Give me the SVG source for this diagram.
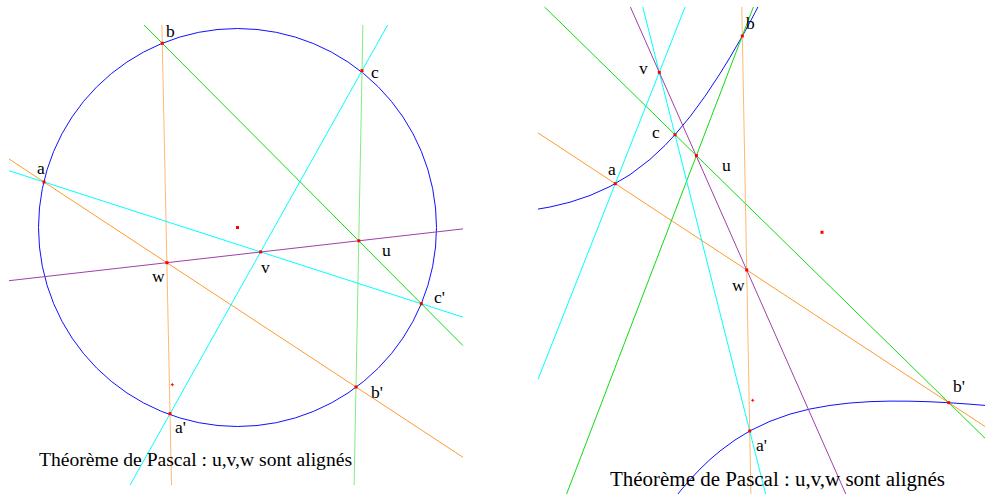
<svg xmlns="http://www.w3.org/2000/svg" width="985" height="494" viewBox="0 0 985 494">
<style>
.ln{fill:none;stroke-width:1}
.or{stroke:#ff9a30}
.orv{stroke:#ffb870}
.gr{stroke:#10dc10}
.grv{stroke:#80ec80}
.cy{stroke:#00ffff}
.pu{stroke:#a040a8}
.cv{fill:none;stroke:#1010ff;stroke-width:1}
.pt{fill:#ff0000}
.lb{font-family:"Liberation Serif","Times New Roman",serif;font-size:17.5px;fill:#000}
.cap{font-family:"Liberation Serif","Times New Roman",serif;fill:#000}
</style>
<rect width="985" height="494" fill="#ffffff"/>

<g id="left-figure">
  <g id="left-conic">
    <circle class="cv" cx="237.5" cy="227.5" r="199"/>
  </g>
  <g id="left-lines">
    <line class="ln or" x1="9" y1="159" x2="463" y2="457.3"/>
    <line class="ln orv" x1="161.9" y1="25" x2="171.5" y2="485"/>
    <line class="ln gr" x1="144.1" y1="25" x2="463" y2="345.6"/>
    <line class="ln grv" x1="362.9" y1="25" x2="354.1" y2="485"/>
    <line class="ln cy" x1="387.6" y1="25" x2="130.1" y2="485"/>
    <line class="ln cy" x1="9" y1="170.7" x2="463" y2="317.2"/>
    <line class="ln pu" x1="9" y1="280.7" x2="463" y2="228.9"/>
  </g>
  <g id="left-points">
    <rect class="pt" x="42.5" y="180.5" width="3" height="3"/>
    <rect class="pt" x="160.8" y="41.8" width="3" height="3"/>
    <rect class="pt" x="360.5" y="69.2" width="3" height="3"/>
    <rect class="pt" x="168.5" y="412.2" width="3" height="3"/>
    <rect class="pt" x="354.5" y="385.5" width="3" height="3"/>
    <rect class="pt" x="419.8" y="302.2" width="3" height="3"/>
    <rect class="pt" x="357.3" y="239.3" width="3" height="3"/>
    <rect class="pt" x="259.1" y="250.4" width="3" height="3"/>
    <rect class="pt" x="165.4" y="261.2" width="3" height="3"/>
    <rect class="pt" x="236" y="226" width="3" height="3"/>
    <path d="M170.8,384.7h3M172.3,383.2v3" stroke="#ff0000" stroke-width="1" fill="none"/>
  </g>
  <g id="left-labels">
    <text class="lb" x="166" y="37">b</text>
    <text class="lb" x="371" y="78">c</text>
    <text class="lb" x="37" y="174">a</text>
    <text class="lb" x="382" y="256">u</text>
    <text class="lb" x="261" y="273">v</text>
    <text class="lb" x="152" y="282">w</text>
    <text class="lb" x="434" y="303">c'</text>
    <text class="lb" x="371" y="398">b'</text>
    <text class="lb" x="175" y="433">a'</text>
  </g>
  <text id="left-caption" class="cap" x="39" y="466" font-size="19.5" textLength="313" lengthAdjust="spacingAndGlyphs">Théorème de Pascal : u,v,w sont alignés</text>
</g>

<g id="right-figure">
  <g id="right-conic">
    <path class="cv" d="M538,209.1 L550,207 L570,202.2 L590,195.5 L610,186.5 L630,174.7 L650,159.4 L665,145.4 L675,134.7 L690,116.7 L705,96.3 L720,73.6 L730,57.3 L740,40.1 L745,31.2 L750,22 L755,12.7 L757.9,7"/>
    <path class="cv" d="M678,494 L680,491.3 L690,479.7 L700,469.1 L710,459.5 L720,451 L735,440 L750,430.8 L770,421.3 L790,414.1 L810,409 L830,405.4 L850,403 L870,401.65 L890,401.1 L910,401.2 L930,401.75 L950,402.8 L970,404.2 L985,405.4"/>
  </g>
  <g id="right-lines">
    <line class="ln or" x1="538" y1="132.9" x2="985" y2="426.5"/>
    <line class="ln orv" x1="741.8" y1="7" x2="750.9" y2="494"/>
    <line class="ln gr" x1="544.6" y1="7" x2="985" y2="438.2"/>
    <line class="ln gr" x1="753.4" y1="7" x2="566.6" y2="494"/>
    <line class="ln cy" x1="685.1" y1="7" x2="538" y2="379.3"/>
    <line class="ln cy" x1="642.8" y1="7" x2="765.6" y2="494"/>
    <line class="ln pu" x1="630.4" y1="7" x2="845.8" y2="494"/>
  </g>
  <g id="right-points">
    <rect class="pt" x="613.8" y="182.2" width="3" height="3"/>
    <rect class="pt" x="740.8" y="34.5" width="3" height="3"/>
    <rect class="pt" x="673.5" y="133.2" width="3" height="3"/>
    <rect class="pt" x="748.2" y="429.5" width="3" height="3"/>
    <rect class="pt" x="947.2" y="401.2" width="3" height="3"/>
    <rect class="pt" x="694.9" y="154.1" width="3" height="3"/>
    <rect class="pt" x="657.8" y="70.9" width="3" height="3"/>
    <rect class="pt" x="745.2" y="268.5" width="3" height="3"/>
    <rect class="pt" x="820.5" y="230.8" width="3" height="3"/>
    <path d="M751.2,400.3h3M752.7,398.8v3" stroke="#ff0000" stroke-width="1" fill="none"/>
  </g>
  <g id="right-labels">
    <text class="lb" x="746" y="29">b</text>
    <text class="lb" x="639" y="74">v</text>
    <text class="lb" x="652" y="138">c</text>
    <text class="lb" x="722" y="171">u</text>
    <text class="lb" x="608" y="175">a</text>
    <text class="lb" x="732" y="291">w</text>
    <text class="lb" x="756" y="451">a'</text>
    <text class="lb" x="953" y="392">b'</text>
  </g>
  <text id="right-caption" class="cap" x="610" y="486" font-size="20.5" textLength="335" lengthAdjust="spacingAndGlyphs">Théorème de Pascal : u,v,w sont alignés</text>
</g>
</svg>
